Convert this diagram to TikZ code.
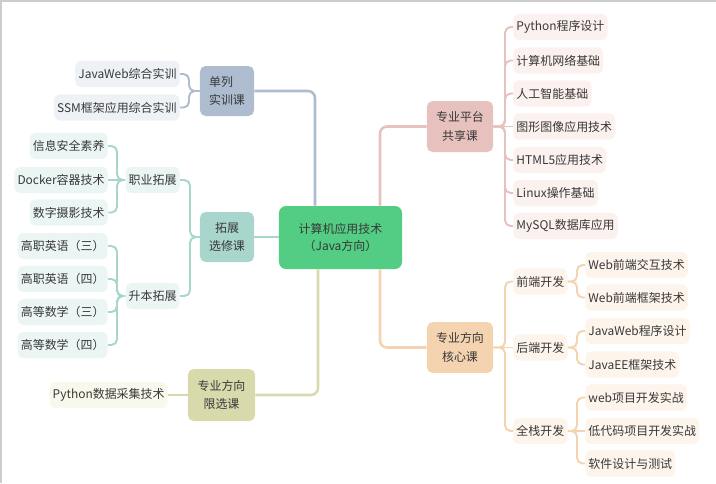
\documentclass[tikz,border=0pt]{standalone}
\usepackage{fontspec}
\setmainfont{Noto Sans CJK SC}
\usetikzlibrary{positioning}
\usetikzlibrary{calc}

\definecolor{cInk}{HTML}{383838}
\definecolor{cRoot}{HTML}{52CD83}
\definecolor{cGray}{HTML}{ADBCCF}
\definecolor{cGrayLt}{HTML}{EEF2F7}
\definecolor{cTeal}{HTML}{A8D6CC}
\definecolor{cTealLt}{HTML}{EBF6F4}
\definecolor{cOlive}{HTML}{D8DAAC}
\definecolor{cOliveLt}{HTML}{F8F8EC}
\definecolor{cPink}{HTML}{E7C1BD}
\definecolor{cPinkLt}{HTML}{FBF1EF}
\definecolor{cPeach}{HTML}{F4D4B0}
\definecolor{cPeachLt}{HTML}{FDF4EB}

\begin{document}
\begin{tikzpicture}[x=0.025cm, y=-0.025cm,
      every node/.style={font=\fontsize{8.5}{13}\selectfont, text=cInk},
      root/.style={rectangle, rounded corners=5pt, fill=cRoot, minimum width=3.075cm, minimum height=1.575cm, align=center, font=\fontsize{8.5}{12.5}\selectfont},
      topic/.style={rectangle, rounded corners=4pt, minimum width=1.35cm, minimum height=1.25cm, align=center, inner sep=0pt},
      leaf/.style={rectangle, rounded corners=4pt, minimum height=0.66cm, inner xsep=0.08cm, inner ysep=0pt},
      trunk/.style={line width=1.8pt, rounded corners=5pt},
      twig/.style={line width=1.4pt, rounded corners=4pt}
      ]

      \useasboundingbox (0,0) rectangle (716,483);
      \draw[black!20, line width=0.03cm] (1,483) -- (1,1) -- (716,1);

      % Nodes
      \node[root] (root) at (340.5,237.5) {计算机应用技术\\（Java方向）};

      \node[topic, fill=cGray, align=left] (shixun) at (227,91) {单列\\实训课};
      \node[leaf, fill=cGrayLt, anchor=east] (javaweb) at (180,74) {JavaWeb综合实训};
      \node[leaf, fill=cGrayLt, anchor=east] (ssm) at (180,107.5) {SSM框架应用综合实训};

      \node[topic, fill=cTeal] (tuozhan) at (227,237) {拓展\\选修课};
      \node[leaf, fill=cTealLt, anchor=east] (zhiye) at (180,180) {职业拓展};
      \node[leaf, fill=cTealLt, anchor=east] (shengben) at (180,296) {升本拓展};
      \node[leaf, fill=cTealLt, anchor=east] (xinxi) at (108,146) {信息安全素养};
      \node[leaf, fill=cTealLt, anchor=east] (docker) at (108,180) {Docker容器技术};
      \node[leaf, fill=cTealLt, anchor=east] (sheying) at (108,212.5) {数字摄影技术};
      \node[leaf, fill=cTealLt, anchor=east] (yingyuA) at (108,246) {高职英语（三）};
      \node[leaf, fill=cTealLt, anchor=east] (yingyuB) at (108,279) {高职英语（四）};
      \node[leaf, fill=cTealLt, anchor=east] (shuxueA) at (108,312) {高等数学（三）};
      \node[leaf, fill=cTealLt, anchor=east] (shuxueB) at (108,345) {高等数学（四）};

      \node[topic, fill=cOlive, minimum width=1.675cm, minimum height=1.3cm] (xianxuan) at (221.5,395) {专业方向\\限选课};
      \node[leaf, fill=cOliveLt, anchor=east] (caiji) at (168,395) {Python数据采集技术};

      \node[topic, fill=cPink, minimum width=1.65cm, minimum height=1.275cm] (gongxiang) at (460,126.5) {专业平台\\共享课};
      \node[leaf, fill=cPinkLt, anchor=west] (python) at (513,27) {Python程序设计};
      \node[leaf, fill=cPinkLt, anchor=west] (wangluo) at (513,60.5) {计算机网络基础};
      \node[leaf, fill=cPinkLt, anchor=west] (zhineng) at (513,93.5) {人工智能基础};
      \node[leaf, fill=cPinkLt, anchor=west] (tuxing) at (513,126.5) {图形图像应用技术};
      \node[leaf, fill=cPinkLt, anchor=west] (html) at (513,160) {HTML5应用技术};
      \node[leaf, fill=cPinkLt, anchor=west] (linux) at (513,193) {Linux操作基础};
      \node[leaf, fill=cPinkLt, anchor=west] (mysql) at (513,226) {MySQL数据库应用};

      \node[topic, fill=cPeach, minimum width=1.65cm, minimum height=1.275cm] (hexin) at (460,347.5) {专业方向\\核心课};
      \node[leaf, fill=cPeachLt, anchor=west] (qianduan) at (513,281.5) {前端开发};
      \node[leaf, fill=cPeachLt, anchor=west] (houduan) at (513,347.5) {后端开发};
      \node[leaf, fill=cPeachLt, anchor=west] (quanzhan) at (513,431) {全栈开发};
      \node[leaf, fill=cPeachLt, anchor=west] (jiaohu) at (585,265) {Web前端交互技术};
      \node[leaf, fill=cPeachLt, anchor=west] (kuangjia) at (585,297.5) {Web前端框架技术};
      \node[leaf, fill=cPeachLt, anchor=west] (chengxu) at (585,331) {JavaWeb程序设计};
      \node[leaf, fill=cPeachLt, anchor=west] (javaee) at (585,364.5) {JavaEE框架技术};
      \node[leaf, fill=cPeachLt, anchor=west] (shizhan) at (585,397.5) {web项目开发实战};
      \node[leaf, fill=cPeachLt, anchor=west] (didaima) at (585,431) {低代码项目开发实战};
      \node[leaf, fill=cPeachLt, anchor=west] (ceshi) at (585,463.5) {软件设计与测试};

      % Branches
      \draw[trunk, cGray] (shixun.east) -| ($(root.north)+(-25.5,0)$);
      \draw[trunk, cTeal] (tuozhan.east) -- (tuozhan.east -| root.west);
      \draw[trunk, cOlive] (xianxuan.east) -| ($(root.south)+(-22.5,0)$);
      \draw[trunk, cPink] ($(root.north)+(39.5,0)$) |- (gongxiang.west);
      \draw[trunk, cPeach] ($(root.south)+(39.5,0)$) |- (hexin.west);

      % Twigs, left side
      \draw[twig, cGray] (shixun.west) -| ($(javaweb.east)+(9,0)$) -- (javaweb.east);
      \draw[twig, cGray] (shixun.west) -| ($(ssm.east)+(9,0)$) -- (ssm.east);
      \draw[twig, cTeal] (tuozhan.west) -| ($(zhiye.east)+(10,0)$) -- (zhiye.east);
      \draw[twig, cTeal] (tuozhan.west) -| ($(shengben.east)+(10,0)$) -- (shengben.east);
      \draw[twig, cTeal] (zhiye.west) -| ($(xinxi.east)+(9,0)$) -- (xinxi.east);
      \draw[twig, cTeal] (zhiye.west) -- (docker.east);
      \draw[twig, cTeal] (zhiye.west) -| ($(sheying.east)+(9,0)$) -- (sheying.east);
      \draw[twig, cTeal] (shengben.west) -| ($(yingyuA.east)+(9,0)$) -- (yingyuA.east);
      \draw[twig, cTeal] (shengben.west) -| ($(yingyuB.east)+(9,0)$) -- (yingyuB.east);
      \draw[twig, cTeal] (shengben.west) -| ($(shuxueA.east)+(9,0)$) -- (shuxueA.east);
      \draw[twig, cTeal] (shengben.west) -| ($(shuxueB.east)+(9,0)$) -- (shuxueB.east);
      \draw[twig, cOlive] (xianxuan.west) -- (caiji.east);

      % Twigs, right side
      \draw[twig, cPink] (gongxiang.east) -| ($(python.west)+(-8,0)$) -- (python.west);
      \draw[twig, cPink] (gongxiang.east) -| ($(wangluo.west)+(-8,0)$) -- (wangluo.west);
      \draw[twig, cPink] (gongxiang.east) -| ($(zhineng.west)+(-8,0)$) -- (zhineng.west);
      \draw[twig, cPink] (gongxiang.east) -- (tuxing.west);
      \draw[twig, cPink] (gongxiang.east) -| ($(html.west)+(-8,0)$) -- (html.west);
      \draw[twig, cPink] (gongxiang.east) -| ($(linux.west)+(-8,0)$) -- (linux.west);
      \draw[twig, cPink] (gongxiang.east) -| ($(mysql.west)+(-8,0)$) -- (mysql.west);
      \draw[twig, cPeach] (hexin.east) -| ($(qianduan.west)+(-8,0)$) -- (qianduan.west);
      \draw[twig, cPeach] (hexin.east) -- (houduan.west);
      \draw[twig, cPeach] (hexin.east) -| ($(quanzhan.west)+(-8,0)$) -- (quanzhan.west);
      \draw[twig, cPeach] (qianduan.east) -| ($(jiaohu.west)+(-8,0)$) -- (jiaohu.west);
      \draw[twig, cPeach] (qianduan.east) -| ($(kuangjia.west)+(-8,0)$) -- (kuangjia.west);
      \draw[twig, cPeach] (houduan.east) -| ($(chengxu.west)+(-8,0)$) -- (chengxu.west);
      \draw[twig, cPeach] (houduan.east) -| ($(javaee.west)+(-8,0)$) -- (javaee.west);
      \draw[twig, cPeach] (quanzhan.east) -| ($(shizhan.west)+(-8,0)$) -- (shizhan.west);
      \draw[twig, cPeach] (quanzhan.east) -- (didaima.west);
      \draw[twig, cPeach] (quanzhan.east) -| ($(ceshi.west)+(-8,0)$) -- (ceshi.west);

    \end{tikzpicture}
\end{document}
